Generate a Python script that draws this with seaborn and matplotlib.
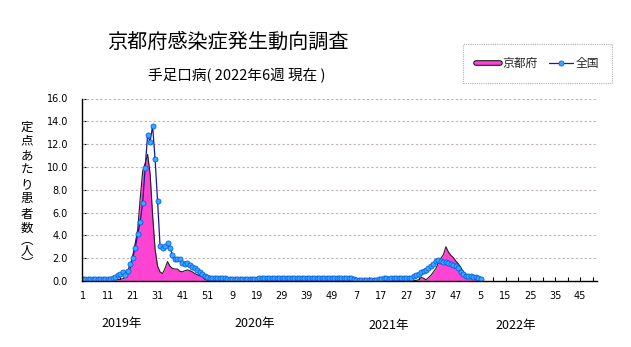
import numpy as np
import pandas as pd
import matplotlib
matplotlib.use("Agg")
import matplotlib.pyplot as plt
import matplotlib.patheffects as pe
from matplotlib.lines import Line2D
from matplotlib.ticker import FixedLocator, MultipleLocator, FormatStrFormatter
import seaborn as sns

# ---------------- data ----------------
title = "京都府感染症発生動向調査"
subtitle = "手足口病( 2022年6週 現在 )"
ylabel_chars = "定点あたり患者数︵人︶"
series_names = ["京都府", "全国"]
year_labels = ["2019年", "2020年", "2021年", "2022年"]
week_tick_labels = ["1", "11", "21", "31", "41", "51", "9", "19", "29", "39", "49",
                    "7", "17", "27", "37", "47", "5", "15", "25", "35", "45"]

nat_2019 = [0.15, 0.2, 0.2, 0.2, 0.2, 0.15, 0.18, 0.2, 0.2, 0.2, 0.2, 0.2,
            0.25, 0.35, 0.5, 0.65, 0.75, 0.5, 0.85, 1.5, 2.05, 2.9, 4.1, 5.2,
            6.8, 9.9, 12.8, 12.2, 13.6, 10.7, 7.0, 3.1, 2.87, 3.1, 3.3, 2.87,
            2.3, 1.93, 1.93, 1.93, 1.55, 1.47, 1.6, 1.4, 1.26, 1.1, 0.97, 0.82,
            0.62, 0.44, 0.35, 0.29]
nat_2020 = [0.3, 0.3, 0.28, 0.3, 0.28, 0.22,
            0.2, 0.18, 0.2, 0.2, 0.18, 0.2, 0.2, 0.2, 0.18, 0.2, 0.2, 0.2, 0.2, 0.22, 0.22,
            0.3, 0.28, 0.3, 0.28, 0.3, 0.28, 0.27, 0.3, 0.28, 0.28, 0.3, 0.27, 0.28, 0.26,
            0.25, 0.25, 0.24, 0.26, 0.25, 0.24, 0.25, 0.26, 0.25, 0.24, 0.25, 0.25, 0.24,
            0.25, 0.26, 0.25, 0.24]
nat_2021 = [0.25, 0.24, 0.25, 0.25, 0.24, 0.2,
            0.12, 0.1, 0.1, 0.09, 0.1, 0.1, 0.09, 0.1, 0.12, 0.15,
            0.2, 0.22, 0.22, 0.2, 0.22, 0.22, 0.23, 0.22, 0.23, 0.24,
            0.25, 0.27, 0.3, 0.4, 0.53, 0.65, 0.75, 0.9, 1.0, 1.15, 1.3, 1.5, 1.75,
            1.8, 1.72, 1.7, 1.64, 1.55, 1.47, 1.4, 1.32, 1.1, 0.82, 0.59, 0.47, 0.47]
nat_2022 = [0.42, 0.38, 0.32, 0.23, 0.18]

kyo_2019 = [0.05, 0.05, 0.03, 0.05, 0.03, 0.03, 0.05, 0.03, 0.05, 0.05, 0.03, 0.05,
            0.08, 0.1, 0.12, 0.15, 0.2, 0.3, 0.5, 1.1, 2.2, 3.3, 4.5, 7.2, 9.6,
            10.3, 11.1, 9.4, 5.8, 2.8, 1.3, 0.8, 0.65, 1.1, 1.7, 1.3, 1.1, 1.05,
            1.05, 0.85, 0.8, 0.9, 0.97, 0.9, 0.8, 0.65, 0.55, 0.45, 0.38, 0.15,
            0.1, 0.08]
kyo_2020 = [0.05, 0.03, 0.02, 0.03, 0.02, 0.02, 0.03, 0.02, 0.02, 0.03, 0.02, 0.02,
            0.02, 0.03, 0.02, 0.02, 0.03, 0.02, 0.02, 0.02, 0.03, 0.02, 0.02, 0.03,
            0.02, 0.02, 0.03, 0.02, 0.02, 0.03, 0.02, 0.02, 0.02, 0.03, 0.02, 0.02,
            0.03, 0.02, 0.02, 0.03, 0.02, 0.02, 0.02, 0.03, 0.02, 0.02, 0.03, 0.02,
            0.02, 0.03, 0.02, 0.02]
kyo_2021 = [0.02, 0.03, 0.02, 0.02, 0.03, 0.02, 0.02, 0.02, 0.03, 0.02, 0.02, 0.03,
            0.02, 0.02, 0.03, 0.02, 0.02, 0.03, 0.02, 0.02, 0.03, 0.02, 0.02, 0.03,
            0.02, 0.03, 0.03, 0.02, 0.03, 0.03,
            0.05, 0.1, 0.3, 0.25, 0.1, 0.3, 0.5, 0.8, 1.1, 1.6, 2.0, 2.3, 3.0,
            2.55, 2.25, 2.05, 1.75, 1.5, 1.2, 0.75, 0.55, 0.4]
kyo_2022 = [0.33, 0.25, 0.2, 0.15, 0.1]

national = nat_2019 + nat_2020 + nat_2021 + nat_2022
kyoto = kyo_2019 + kyo_2020 + kyo_2021 + kyo_2022
df = pd.DataFrame({"week": np.arange(len(national)), "national": national, "kyoto": kyoto})

# ---------------- style ----------------
W, H = 631, 347
sns.set_theme(style="white")
plt.rcParams["font.family"] = ["Noto Sans CJK JP", "DejaVu Sans"]

fig = plt.figure(figsize=(W / 100, H / 100), dpi=100)
fig.patch.set_facecolor("white")
L, R, T, B = 82, 597, 98.5, 281
ax = fig.add_axes([L / W, 1 - B / H, (R - L) / W, (B - T) / H])
ax.set_facecolor("white")

PINK = "#ff44d4"
NAVY = "#1a1a90"
MFACE = "#33aaff"
MEDGE = "#0050e8"
# Kyoto area
ax.fill_between(df["week"], 0, df["kyoto"], color=PINK, linewidth=0, zorder=2)
sns.lineplot(data=df, x="week", y="kyoto", ax=ax, color="#202020", lw=0.8, zorder=3)
# National line with markers
sns.lineplot(data=df, x="week", y="national", ax=ax, color=NAVY, lw=0.9,
             marker="o", markersize=3.7, markerfacecolor=MFACE,
             markeredgecolor=MEDGE, markeredgewidth=0.5, zorder=4)

ax.set_xlim(-0.4, 206.8)
ax.set_ylim(0, 16)
ax.set_xlabel("")
ax.set_ylabel("")

ax.yaxis.set_major_locator(MultipleLocator(2))
ax.yaxis.set_major_formatter(FormatStrFormatter("%.1f"))
ax.xaxis.set_major_locator(FixedLocator(list(range(0, 201, 10))))
ax.set_xticklabels(week_tick_labels)
ax.xaxis.set_minor_locator(FixedLocator(list(range(5, 206, 10))))

ax.tick_params(axis="both", which="both", direction="in", length=3, width=0.8,
               color="black", labelsize=7, labelcolor="black")
ax.tick_params(axis="x", which="both", pad=7, bottom=True)
ax.tick_params(axis="y", which="major", pad=10, left=True)
for lab in ax.get_xticklabels() + ax.get_yticklabels():
    lab.set_family(["DejaVu Sans"])

ax.grid(False)
for yv in range(2, 17, 2):
    ax.axhline(yv, color="#bdb2bd", lw=0.8, ls=(0, (2, 2)), zorder=1)

for s in ["top", "right"]:
    ax.spines[s].set_visible(False)
for s in ["left", "bottom"]:
    ax.spines[s].set_color("black")
    ax.spines[s].set_linewidth(1.0)
    ax.spines[s].set_zorder(5)

# ---------------- texts ----------------
fig.text(228 / W, 1 - 42 / H, title, ha="center", va="center", fontsize=14.5, color="black")
fig.text(237 / W, 1 - 76 / H, subtitle, ha="center", va="center", fontsize=10.5, color="black")

ylab_y = [127, 141, 156, 170, 185, 199, 214, 228, 240, 252, 264]
for ch, yy in zip(ylabel_chars, ylab_y):
    fig.text(27 / W, 1 - yy / H, ch, ha="center", va="center", fontsize=9, color="black")

year_x = [122, 255, 389, 516]
year_y = [324, 323, 326, 326]
for lab, xx, yy in zip(year_labels, year_x, year_y):
    fig.text(xx / W, 1 - yy / H, lab, ha="center", va="center", fontsize=9, color="black")

# ---------------- legend ----------------
h_kyo = Line2D([], [], color=PINK, lw=2.6,
               path_effects=[pe.Stroke(linewidth=4.0, foreground="black"), pe.Normal()])
h_nat = Line2D([], [], color=NAVY, lw=0.9, marker="o", markersize=3.7,
               markerfacecolor=MFACE, markeredgecolor=MEDGE, markeredgewidth=0.5)
leg = fig.legend([h_kyo, h_nat], series_names, ncol=2, fontsize=8.5,
                 loc="center", bbox_to_anchor=(537.5 / W, 1 - 63.5 / H),
                 frameon=True, fancybox=False, handlelength=2.0, handletextpad=0.2,
                 columnspacing=1.0, borderpad=1.1)
fr = leg.get_frame()
fr.set_edgecolor("#a0a0a0")
fr.set_linestyle((0, (1, 1)))
fr.set_linewidth(0.8)

fig.savefig("out.png", dpi=100)
